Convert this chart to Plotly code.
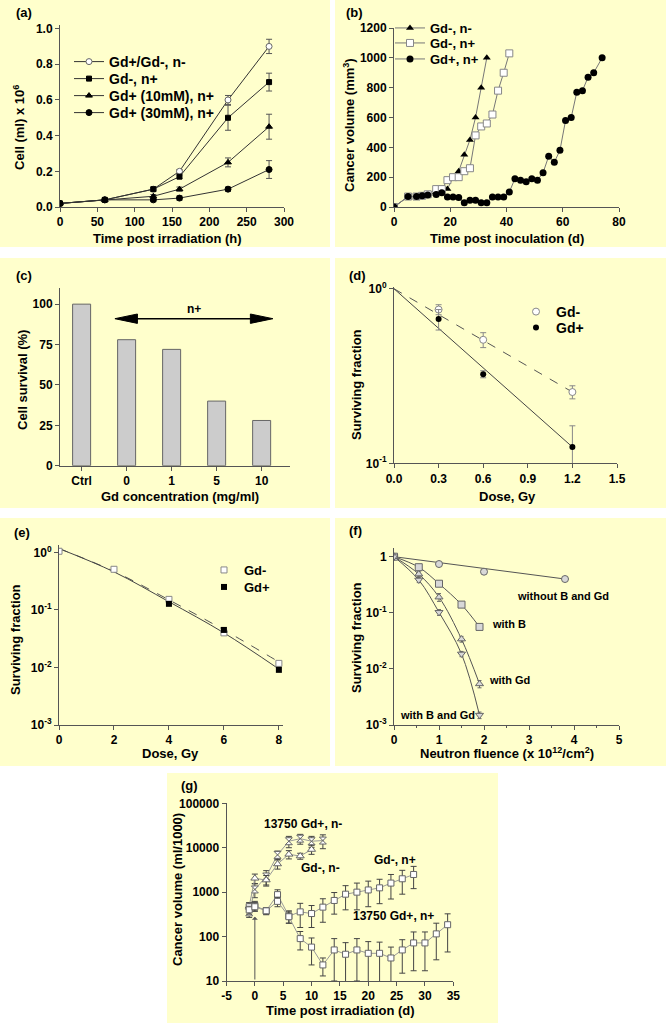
import math
import plotly.graph_objects as go

W, H = 666, 1023
FONT = "Liberation Sans, Arial, Helvetica, sans-serif"
AX = "#555555"
BG = "#FFFFCC"

# ---------------- data ----------------
# (a) cell number vs time post irradiation
a_time = [0, 60, 125, 160, 225, 280]
a_ctrl = [0.02, 0.04, 0.10, 0.20, 0.60, 0.90]
a_ctrl_err = [0, 0, 0.01, 0.01, 0.025, 0.04]
a_gdm = [0.02, 0.04, 0.10, 0.17, 0.50, 0.70]
a_gdm_err = [0, 0, 0.01, 0.01, 0.07, 0.05]
a_gd10 = [0.02, 0.04, 0.06, 0.10, 0.25, 0.45]
a_gd10_err = [0, 0, 0.01, 0.012, 0.025, 0.07]
a_gd30 = [0.02, 0.04, 0.04, 0.05, 0.10, 0.21]
a_gd30_err = [0, 0, 0.01, 0.012, 0.012, 0.05]

# (b) cancer volume vs time post inoculation
b_nm_day = [0, 5, 8, 10, 12, 15, 17, 19, 21, 23, 25, 27, 29, 31, 33]
b_nm_vol = [0, 70, 70, 75, 80, 100, 100, 120, 200, 240, 350, 450, 600, 800, 1000]
b_np_day = [0, 5, 8, 10, 12, 15, 17, 19, 21, 23, 25, 27, 29, 31, 33, 35, 37, 39, 41]
b_np_vol = [0, 70, 70, 75, 85, 120, 120, 180, 200, 200, 240, 260, 480, 540, 560, 620, 780, 900, 1030]
b_gp_day = [0, 5, 8, 10, 12, 15, 17, 19, 21, 23, 25, 27, 29, 31, 33, 35, 37, 39, 41, 43,
            45, 47, 49, 51, 53, 55, 57, 59, 61, 63, 65, 67, 69, 71, 74]
b_gp_vol = [0, 70, 70, 75, 80, 83, 96, 67, 67, 63, 29, 45, 45, 29, 29, 67, 67, 67, 100, 190,
            180, 170, 190, 180, 230, 340, 300, 380, 580, 600, 770, 780, 870, 900, 1000]

# (c) cell survival vs Gd concentration
c_labels = ["Ctrl", "0", "1", "5", "10"]
c_survival = [100, 78, 72, 40, 28]
c_arrow = dict(x0=0.74, x1=4.25, y=91, label="n+")

# (d) surviving fraction vs dose
d_dose = [0.3, 0.6, 1.2]
d_gdm = [0.76, 0.51, 0.256]
d_gdm_err = [0.05, 0.05, 0.022]
d_gdp = [0.67, 0.324, 0.124]
d_gdp_err = [0.09, 0.015, 0.04]
d_fit_dose = [0.0, 1.2]
d_fit_gdm = [1.0, 0.256]
d_fit_gdp = [1.0, 0.124]

# (e) surviving fraction vs dose
e_dose = [0, 2, 4, 6, 8]
e_gdm = [1.05, 0.51, 0.153, 0.040, 0.0118]
e_gdp = [1.05, 0.50, 0.128, 0.045, 0.0091]
e_fit_gdm = [1.17, 0.47, 0.15, 0.045, 0.0125]
e_fit_gdp = [1.17, 0.46, 0.139, 0.040, 0.0094]

# (f) surviving fraction vs neutron fluence
f_none_x = [0, 1, 2, 3.8]
f_none_y = [1.0, 0.74, 0.54, 0.40]
f_none_fit_x = [0, 3.8]
f_none_fit_y = [1.0, 0.40]
f_x = [0, 0.55, 1, 1.5, 1.9]
f_b = [1.0, 0.65, 0.33, 0.14, 0.056]
f_b_err = [0, 0.04, 0.03, 0.01, 0.004]
f_gd = [1.0, 0.49, 0.19, 0.034, 0.0054]
f_gd_err = [0, 0.05, 0.03, 0.004, 0.0008]
f_bgd = [1.0, 0.385, 0.102, 0.0185, 0.0015]
f_bgd_err = [0, 0.04, 0.012, 0.002, 0.0002]

# (g) cancer volume vs time post irradiation
g_np_day = [-1, 0, 2, 4, 6, 8, 10, 12, 14, 16, 18, 20, 22, 24, 26, 28]
g_np_vol = [470, 500, 380, 880, 290, 360, 330, 460, 650, 900, 1000, 1120, 1250, 1600, 2000, 2500]
g_np_err = [100, 120, 70, 250, 90, 200, 170, 250, 330, 500, 600, 650, 700, 900, 1100, 1300]
g_gp_day = [-1, 0, 2, 4, 6, 8, 10, 12, 14, 16, 18, 20, 22, 24, 26, 28, 30, 32, 34]
g_gp_vol = [400, 470, 380, 620, 280, 90, 58, 23, 50, 40, 50, 42, 42, 33, 50, 72, 72, 115, 185]
g_gp_err = [80, 100, 60, 150, 80, 40, 35, 10, 40, 33, 40, 35, 33, 25, 35, 55, 55, 85, 140]
g_nm_day = [-1, 0, 2, 4, 6, 8, 10]
g_nm_vol = [480, 2050, 1870, 4300, 7100, 6500, 9100]
g_nm_err = [100, 500, 500, 1000, 1500, 1000, 2000]
g_gm_day = [-1, 0, 2, 4, 6, 8, 10, 12]
g_gm_vol = [350, 1150, 2250, 6900, 14000, 16000, 14000, 14500]
g_gm_err = [80, 400, 800, 1500, 4000, 4000, 4000, 5000]
g_irr = dict(day=0, top=280, bottom=10)


def px(x):
    return x / W


def py(y):
    return 1 - y / H


def font(size, color="black"):
    return dict(family=FONT, size=size, color=color, weight="bold")


def err(arr, color=AX, width=3):
    return dict(type="data", array=arr, color=color, thickness=1, width=width, visible=True)


fig = go.Figure()
legends = {}


def new_legend(x_left, y_mid, size):
    key = "legend" if not legends else "legend%d" % (len(legends) + 1)
    legends[key] = dict(x=px(x_left), y=py(y_mid), xanchor="left", yanchor="middle",
                        font=font(size), bgcolor="rgba(0,0,0,0)", borderwidth=0)
    return key


# ---------- (a) ----------
a_rows = [62, 79, 96, 113]
for i, (name, ys, es, sym, fill, mcol, sz) in enumerate([
    ("Gd+/Gd-, n-", a_ctrl, a_ctrl_err, "circle", "white", "#666666", 6),
    ("Gd-, n+", a_gdm, a_gdm_err, "square", "black", "black", 5),
    ("Gd+ (10mM), n+", a_gd10, a_gd10_err, "triangle-up", "black", "black", 6),
    ("Gd+ (30mM), n+", a_gd30, a_gd30_err, "circle", "black", "black", 6),
]):
    fig.add_trace(go.Scatter(
        x=a_time, y=ys, name=name, mode="lines+markers", error_y=err(es),
        line=dict(color="#333333", width=1),
        marker=dict(symbol=sym, size=sz, color=fill, line=dict(color=mcol, width=1)),
        xaxis="x", yaxis="y", legend=new_legend(69, a_rows[i], 14)))

# ---------- (b) ----------
b_rows = [28, 43, 59]
fig.add_trace(go.Scatter(
    x=b_nm_day, y=b_nm_vol, name="Gd-, n-", mode="lines+markers",
    line=dict(color="#777777", width=1),
    marker=dict(symbol="triangle-up", size=7, color="black", line=dict(color="black", width=0)),
    xaxis="x2", yaxis="y2", legend=new_legend(390, b_rows[0], 13)))
fig.add_trace(go.Scatter(
    x=b_np_day, y=b_np_vol, name="Gd-, n+", mode="lines+markers",
    line=dict(color="#777777", width=1),
    marker=dict(symbol="square", size=7, color="white", line=dict(color="#888888", width=1)),
    xaxis="x2", yaxis="y2", legend=new_legend(390, b_rows[1], 13)))
fig.add_trace(go.Scatter(
    x=b_gp_day, y=b_gp_vol, name="Gd+, n+", mode="lines+markers",
    line=dict(color="#777777", width=1),
    marker=dict(symbol="circle", size=7, color="black", line=dict(color="black", width=0)),
    xaxis="x2", yaxis="y2", legend=new_legend(390, b_rows[2], 13)))

# ---------- (c) ----------
fig.add_trace(go.Bar(
    x=list(range(len(c_labels))), y=c_survival, width=0.4,
    marker=dict(color="#CCCCCC", line=dict(color="#666666", width=1)),
    showlegend=False, xaxis="x3", yaxis="y3"))

# ---------- (d) ----------
fig.add_trace(go.Scatter(
    x=d_fit_dose, y=d_fit_gdm, mode="lines", showlegend=False,
    line=dict(color="#555555", width=1, dash="dash"), xaxis="x4", yaxis="y4"))
fig.add_trace(go.Scatter(
    x=d_fit_dose, y=d_fit_gdp, mode="lines", showlegend=False,
    line=dict(color="#444444", width=1), xaxis="x4", yaxis="y4"))
fig.add_trace(go.Scatter(
    x=d_dose, y=d_gdm, name="Gd-", mode="markers", error_y=err(d_gdm_err, "#888888"),
    marker=dict(symbol="circle", size=7, color="white", line=dict(color="#888888", width=1)),
    xaxis="x4", yaxis="y4", legend=new_legend(516, 312, 14)))
fig.add_trace(go.Scatter(
    x=d_dose, y=d_gdp, name="Gd+", mode="markers", error_y=err(d_gdp_err, "#888888"),
    marker=dict(symbol="circle", size=6, color="black"),
    xaxis="x4", yaxis="y4", legend=new_legend(516, 328, 14)))

# ---------- (e) ----------
fig.add_trace(go.Scatter(
    x=e_dose, y=e_fit_gdm, mode="lines", showlegend=False, line_shape="spline",
    line=dict(color="#555555", width=1, dash="dash"), xaxis="x5", yaxis="y5"))
fig.add_trace(go.Scatter(
    x=e_dose, y=e_fit_gdp, mode="lines", showlegend=False, line_shape="spline",
    line=dict(color="#444444", width=1), xaxis="x5", yaxis="y5"))
fig.add_trace(go.Scatter(
    x=e_dose, y=e_gdm, name="Gd-", mode="markers",
    marker=dict(symbol="square", size=6, color="white", line=dict(color="#888888", width=1)),
    xaxis="x5", yaxis="y5", legend=new_legend(204, 570, 13)))
fig.add_trace(go.Scatter(
    x=e_dose[2:], y=e_gdp[2:], name="Gd+", mode="markers",
    marker=dict(symbol="square", size=6, color="black"),
    xaxis="x5", yaxis="y5", legend=new_legend(204, 587, 13)))

# ---------- (f) ----------
fig.add_trace(go.Scatter(
    x=f_none_fit_x, y=f_none_fit_y, mode="lines", showlegend=False,
    line=dict(color="#555555", width=1), xaxis="x6", yaxis="y6"))
for ys in (f_b, f_gd, f_bgd):
    fig.add_trace(go.Scatter(
        x=f_x, y=ys, mode="lines", showlegend=False, line_shape="spline",
        line=dict(color="#555555", width=1), xaxis="x6", yaxis="y6"))
fig.add_trace(go.Scatter(
    x=f_none_x, y=f_none_y, mode="markers", showlegend=False,
    marker=dict(symbol="circle", size=7, color="#D8D8D8", line=dict(color="#666666", width=1)),
    xaxis="x6", yaxis="y6"))
for ys, es, sym in [(f_b, f_b_err, "square"), (f_gd, f_gd_err, "triangle-up"),
                    (f_bgd, f_bgd_err, "triangle-down")]:
    fig.add_trace(go.Scatter(
        x=f_x, y=ys, mode="markers", showlegend=False, error_y=err(es, "#666666", 2),
        marker=dict(symbol=sym, size=7, color="#D8D8D8", line=dict(color="#666666", width=1)),
        xaxis="x6", yaxis="y6"))

# ---------- (g) ----------
gline = dict(color="#999999", width=1)
fig.add_trace(go.Scatter(
    x=g_gm_day, y=g_gm_vol, mode="lines+markers", showlegend=False, line=gline,
    error_y=err(g_gm_err, "#444444", 3),
    marker=dict(symbol="hourglass", size=7, color="white", line=dict(color="#666666", width=1)),
    xaxis="x7", yaxis="y7"))
fig.add_trace(go.Scatter(
    x=g_nm_day, y=g_nm_vol, mode="lines+markers", showlegend=False, line=gline,
    error_y=err(g_nm_err, "#444444", 3),
    marker=dict(symbol="triangle-up", size=7, color="white", line=dict(color="#666666", width=1)),
    xaxis="x7", yaxis="y7"))
fig.add_trace(go.Scatter(
    x=g_np_day, y=g_np_vol, mode="lines+markers", showlegend=False, line=gline,
    error_y=err(g_np_err, "#444444", 3),
    marker=dict(symbol="square", size=6, color="white", line=dict(color="#666666", width=1)),
    xaxis="x7", yaxis="y7"))
fig.add_trace(go.Scatter(
    x=g_gp_day, y=g_gp_vol, mode="lines+markers", showlegend=False, line=gline,
    error_y=err(g_gp_err, "#444444", 3),
    marker=dict(symbol="square", size=6, color="white", line=dict(color="#666666", width=1)),
    xaxis="x7", yaxis="y7"))

# ---------------- axes ----------------
TICKF = font(12)


def axis(dom, rng, anchor, vert, **kw):
    d = dict(range=rng, anchor=anchor, showline=True, linecolor=AX, linewidth=1,
             ticks="outside", ticklen=4, tickwidth=1, tickcolor=AX, showgrid=False,
             zeroline=False, tickfont=TICKF, fixedrange=True, automargin=False)
    if vert:
        d["domain"] = [py(dom[0]), py(dom[1])]
    else:
        d["domain"] = [px(dom[0]), px(dom[1])]
    d.update(kw)
    return d


def sup(e):
    return "10<sup>%s</sup>" % e


layout_axes = dict(
    xaxis=axis([60, 284], [0, 300], "y", False, tickvals=[0, 50, 100, 150, 200, 250, 300]),
    yaxis=axis([207, 25], [0, 1.02], "x", True, tickvals=[0, 0.2, 0.4, 0.6, 0.8, 1.0],
               ticktext=["0.0", "0.2", "0.4", "0.6", "0.8", "1.0"]),
    xaxis2=axis([394, 619], [0, 80], "y2", False, tickvals=[0, 20, 40, 60, 80]),
    yaxis2=axis([207, 28], [0, 1200], "x2", True, tickvals=[0, 200, 400, 600, 800, 1000, 1200]),
    xaxis3=axis([60, 290], [-0.48, 4.63], "y3", False, tickvals=list(range(len(c_labels))),
                ticktext=c_labels),
    yaxis3=axis([465.7, 288], [0, 110], "x3", True, tickvals=[0, 25, 50, 75, 100]),
    xaxis4=axis([394, 617], [0, 1.5], "y4", False, tickvals=[0, 0.3, 0.6, 0.9, 1.2, 1.5],
                ticktext=["0.0", "0.3", "0.6", "0.9", "1.2", "1.5"]),
    yaxis4=axis([463.3, 287], [-1, 0.01], "x4", True, type="log", tickvals=[0.1, 1],
                ticktext=[sup("-1"), sup("0")]),
    xaxis5=axis([59, 283], [0, 8.15], "y5", False, tickvals=[0, 2, 4, 6, 8]),
    yaxis5=axis([725, 545], [-3, 0.13], "x5", True, type="log",
                tickvals=[0.001, 0.01, 0.1, 1], ticktext=[sup("-3"), sup("-2"), sup("-1"), sup("0")]),
    xaxis6=axis([394, 619], [0, 5], "y6", False, tickvals=[0, 1, 2, 3, 4, 5],
                minor=dict(dtick=0.5, ticklen=2, tickcolor=AX, ticks="outside")),
    yaxis6=axis([725, 548], [-3, 0.155], "x6", True, type="log",
                tickvals=[0.001, 0.01, 0.1, 1], ticktext=[sup("-3"), sup("-2"), sup("-1"), "1"]),
    xaxis7=axis([226.5, 453.3], [-5, 35], "y7", False, tickvals=list(range(-5, 36, 5)),
                ticktext=[str(v) for v in range(-5, 36, 5)]),
    yaxis7=axis([981, 803.3], [1, 5], "x7", True, type="log",
                tickvals=[10, 100, 1000, 10000, 100000],
                ticktext=["10", "100", "1000", "10000", "100000"]),
)

# ---------------- backgrounds ----------------
panels = [(0, 0, 330, 247), (335, 0, 666, 247), (0, 258, 330, 508), (335, 258, 666, 508),
          (0, 518, 330, 766), (335, 518, 666, 766), (167, 773, 498, 1023)]
shapes = []
for (x0, y0, x1, y1) in panels:
    shapes.append(dict(type="rect", xref="paper", yref="paper", x0=px(x0), x1=px(x1),
                       y0=py(y1), y1=py(y0), fillcolor=BG, line=dict(width=0), layer="below"))

# (c) double-headed arrow
hl, hh = 0.5, 2.9
ax0, ax1, ay = c_arrow["x0"], c_arrow["x1"], c_arrow["y"]
shapes.append(dict(type="line", xref="x3", yref="y3", x0=ax0 + hl * 0.8, x1=ax1 - hl * 0.8,
                   y0=ay, y1=ay, line=dict(color="black", width=1.5)))
shapes.append(dict(type="path", xref="x3", yref="y3",
                   path=f"M {ax0},{ay} L {ax0 + hl},{ay + hh} L {ax0 + hl},{ay - hh} Z",
                   fillcolor="black", line=dict(color="black", width=1)))
shapes.append(dict(type="path", xref="x3", yref="y3",
                   path=f"M {ax1},{ay} L {ax1 - hl},{ay + hh} L {ax1 - hl},{ay - hh} Z",
                   fillcolor="black", line=dict(color="black", width=1)))

# ---------------- annotations ----------------
ann = []


def txt(x, y, s, size=13, xanchor="center", angle=0):
    ann.append(dict(x=px(x), y=py(y), xref="paper", yref="paper", text=s, showarrow=False,
                    font=font(size), xanchor=xanchor, yanchor="middle", textangle=angle))


# panel letters
for s, x, y in [("(a)", 14, 13), ("(b)", 344, 13), ("(c)", 14, 275), ("(d)", 347, 275),
                ("(e)", 12, 532), ("(f)", 347, 530), ("(g)", 179, 785)]:
    txt(x, y, s, 13, "left")

# axis titles
txt(168, 238, "Time post irradiation (h)")
txt(19, 128, "Cell (ml) x 10<sup>6</sup>", angle=-90)
txt(507, 238, "Time post inoculation (d)")
txt(349, 125, "Cancer volume (mm<sup>3</sup>)", angle=-90)
txt(180, 496, "Gd concentration (mg/ml)")
txt(22, 380, "Cell survival (%)", angle=-90)
txt(507, 496, "Dose, Gy")
txt(356, 385, "Surviving fraction", angle=-90)
txt(170, 753, "Dose, Gy")
txt(15, 640, "Surviving fraction", angle=-90)
txt(507, 753, "Neutron fluence (x 10<sup>12</sup>/cm<sup>2</sup>)")
txt(356, 638, "Surviving fraction", angle=-90)
txt(340, 1010, "Time post irradiation (d)")
txt(177, 890, "Cancer volume (ml/1000)", angle=-90)

# (c) arrow label
ann.append(dict(x=(ax0 + ax1) / 2, y=ay + 6, xref="x3", yref="y3", text=c_arrow["label"],
                showarrow=False, font=font(12)))

# (f) curve labels
txt(563, 596, "without B and Gd", 11)
txt(509, 624, "with B", 11)
txt(509, 680, "with Gd", 11)
txt(437, 715, "with B and Gd", 11)

# (g) labels
txt(303, 824, "13750 Gd+, n-", 12)
txt(320, 868, "Gd-, n-", 12)
txt(395, 860, "Gd-, n+", 12)
txt(393, 916, "13750 Gd+, n+", 12)

# (g) irradiation arrow
ann.append(dict(x=g_irr["day"], y=math.log10(g_irr["top"]), ax=g_irr["day"],
                ay=math.log10(g_irr["bottom"]), xref="x7", yref="y7", axref="x7", ayref="y7",
                text="", showarrow=True, arrowhead=1, arrowsize=1, arrowwidth=1,
                arrowcolor="#555555"))

fig.update_layout(
    width=W, height=H, margin=dict(l=0, r=0, t=0, b=0, pad=0, autoexpand=False),
    paper_bgcolor="white", plot_bgcolor="rgba(0,0,0,0)",
    shapes=shapes, annotations=ann, showlegend=True,
    **legends,
    **layout_axes,
)

fig.write_html("out.html", config={"displayModeBar": False},
               post_script="document.body.style.margin='0px';document.body.style.overflow='hidden';")
